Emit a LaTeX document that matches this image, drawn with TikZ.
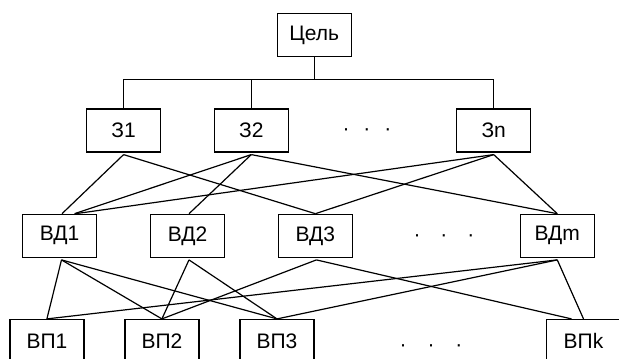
\documentclass[tikz,border=0pt]{standalone}
\usepackage{fontspec}
\setmainfont{Liberation Sans}
% a row of three spaced middle dots
\newcommand\dotrow[1]{·\hspace{#1}·\hspace{#1}·}
\begin{document}
\begin{tikzpicture}[x=1pt,y=-1pt,
  box/.style={draw, line width=1.2pt, minimum width=74pt, minimum height=43pt,
              inner sep=0pt, font=\fontsize{21}{25}\selectfont},
  link/.style={line width=1.2pt},
  dots/.style={anchor=base, inner sep=0pt, font=\fontsize{21}{25}\selectfont}]
\useasboundingbox (0,0) rectangle (619,359);

% goal
\node[box] (goal) at (314.2,35.2) {Цель};

% tasks
\node[box] (z1) at (123.6,130.5) {З1};
\node[box] (z2) at (251.3,130.5) {З2};
\node[box] (zn) at (493.7,130.5) {Зn};
\node[dots] (zdots) at (367,135.8) {\dotrow{14pt}};

% ВД level
\node[box] (vd1) at (59.5,235.8) {ВД1};
\node[box] (vd2) at (187.5,235.8) {ВД2};
\node[box] (vd3) at (315.4,235.8) {ВД3};
\node[box] (vdm) at (557.3,235.8) {ВДm};
\node[dots] (vddots) at (444,241.1) {\dotrow{20pt}};

% ВП level
\node[box] (vp1) at (46.9,341) {ВП1};
\node[box] (vp2) at (161.9,341) {ВП2};
\node[box] (vp3) at (277,341) {ВП3};
\node[box] (vpk) at (583.5,341) {ВПk};
\node[dots] (vpdots) at (431,351.8) {\dotrow{21pt}};

% tree from the goal to the tasks
\coordinate (bus) at ([yshift=-22pt]goal.south);
\draw[link] (goal.south) -- (bus);
\draw[link] (bus) -| (z1.north);
\draw[link] (bus) -| (z2.north);
\draw[link] (bus) -| (zn.north);

% tasks to ВД
\draw[link] ([yshift=-2pt]z1.south) -- ([xshift=2.5pt]vd1.north);
\draw[link] ([yshift=-2pt]z1.south) -- (vd3.north);
\draw[link] ([yshift=-2pt]z2.south) -- ([xshift=15pt]vd1.north);
\draw[link] ([yshift=-2pt]z2.south) -- ([xshift=1.5pt]vd2.north);
\draw[link] ([yshift=-2pt]z2.south) -- (vdm.north);
\draw[link] ([yshift=-2pt]zn.south) -- ([xshift=16pt]vd1.north);
\draw[link] ([yshift=-2pt]zn.south) -- (vd3.north);
\draw[link] ([yshift=-2pt]zn.south) -- (vdm.north);

% ВД to ВП
\draw[link] ([yshift=-2pt,xshift=2pt]vd1.south) -- (vp1.north);
\draw[link] ([yshift=-2pt,xshift=2pt]vd1.south) -- (vp2.north);
\draw[link] ([yshift=-2pt,xshift=2pt]vd1.south) -- (vp3.north);
\draw[link] ([yshift=-2pt,xshift=1.5pt]vd2.south) -- (vp2.north);
\draw[link] ([yshift=-2pt,xshift=1.5pt]vd2.south) -- (vp3.north);
\draw[link] ([yshift=-2pt,xshift=1pt]vd3.south) -- (vp2.north);
\draw[link] ([yshift=-2pt,xshift=1pt]vd3.south) -- ([xshift=-12pt]vpk.north);
\draw[link] ([yshift=-2pt]vdm.south) -- (vp1.north);
\draw[link] ([yshift=-2pt]vdm.south) -- (vp3.north);
\draw[link] ([yshift=-2pt]vdm.south) -- (vpk.north);
\end{tikzpicture}
\end{document}
